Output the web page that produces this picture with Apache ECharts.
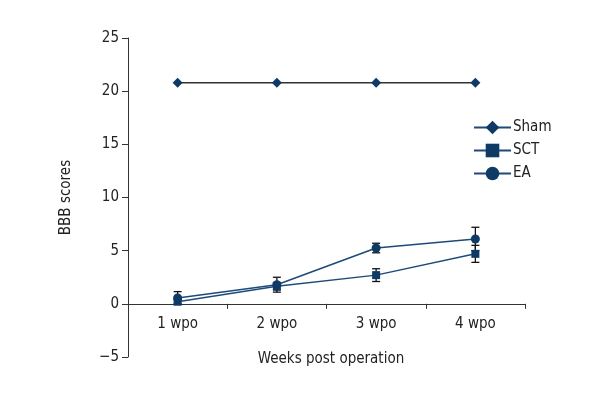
<!DOCTYPE html>
<html>
<head>
<meta charset="utf-8">
<script src="https://cdn.jsdelivr.net/npm/echarts@6/dist/echarts.min.js"></script>
<style>html,body{margin:0;padding:0;background:#fff}#c{width:600px;height:400px}</style>
</head>
<body>
<div id="c"></div>
<script>
var categories = ['1 wpo', '2 wpo', '3 wpo', '4 wpo'];
var shamValues = [20.8, 20.8, 20.8, 20.8];
var sctValues = [0.2, 1.65, 2.7, 4.7];
var sctErrors = [0.2, 0.35, 0.6, 0.8];
var eaValues = [0.55, 1.8, 5.25, 6.1];
var eaErrors = [0.6, 0.7, 0.45, 1.1];
var yTicks = [-5, 0, 5, 10, 15, 20, 25];

var FONT = "'Liberation Sans Narrow', 'DejaVu Sans Condensed', 'Roboto Condensed', sans-serif";
var NAVY = '#0f3a66';
var TXT = '#222';

function errData(vals, errs) {
  return vals.map(function (v, i) { return [i, v - errs[i], v + errs[i]]; });
}
function errRender(params, api) {
  var x = api.value(0);
  var lo = api.coord([x, api.value(1)]);
  var hi = api.coord([x, api.value(2)]);
  var w = 4;
  var st = { stroke: '#111', lineWidth: 1.3 };
  return {
    type: 'group',
    children: [
      { type: 'line', shape: { x1: lo[0], y1: lo[1], x2: hi[0], y2: hi[1] }, style: st },
      { type: 'line', shape: { x1: hi[0] - w, y1: hi[1], x2: hi[0] + w, y2: hi[1] }, style: st },
      { type: 'line', shape: { x1: lo[0] - w, y1: lo[1], x2: lo[0] + w, y2: lo[1] }, style: st }
    ]
  };
}

var chart = echarts.init(document.getElementById('c'), null, { renderer: 'canvas' });
chart.setOption({
  animation: false,
  backgroundColor: '#fff',
  textStyle: { fontFamily: FONT },
  title: {
    text: 'Weeks post operation',
    left: 326, top: 347, textAlign: 'center',
    textStyle: { fontFamily: FONT, fontSize: 15, fontWeight: 'normal', color: TXT }
  },
  grid: { left: 128, right: 75, top: 38, bottom: 43, containLabel: false, outerBoundsMode: 'none' },
  legend: {
    left: 468, top: 115, orient: 'vertical',
    itemWidth: 37, itemHeight: 17, itemGap: 8,
    lineStyle: { color: '#1d4a78' },
    textStyle: { fontFamily: FONT, fontSize: 15, color: TXT, padding: [0, 0, 0, -3] },
    data: ['Sham', 'SCT', 'EA']
  },
  xAxis: {
    type: 'category',
    data: categories,
    boundaryGap: true,
    axisLine: { onZero: true, lineStyle: { color: '#333', width: 1 } },
    axisTick: { show: true, length: 5, inside: false, alignWithLabel: false, lineStyle: { color: '#333' } },
    axisLabel: { fontFamily: FONT, fontSize: 15, color: TXT, margin: -40 },
    splitLine: { show: false }
  },
  yAxis: {
    type: 'value',
    min: yTicks[0], max: yTicks[yTicks.length - 1], interval: 5,
    name: 'BBB scores',
    nameLocation: 'middle',
    nameGap: 54,
    nameTextStyle: { fontFamily: FONT, fontSize: 15, color: TXT },
    axisLine: { show: true, onZero: false, lineStyle: { color: '#333', width: 1 } },
    axisTick: { show: true, length: 6, lineStyle: { color: '#333' } },
    axisLabel: {
      fontFamily: FONT, fontSize: 15, color: TXT, margin: 9,
      formatter: function (v) { return v < 0 ? '\u2212' + Math.abs(v) : String(v); }
    },
    splitLine: { show: false }
  },
  series: [
    {
      name: 'Sham', type: 'line', data: shamValues,
      symbol: 'diamond', symbolSize: 10,
      lineStyle: { color: '#333', width: 1.5 },
      itemStyle: { color: NAVY }
    },
    {
      name: 'SCT', type: 'line', data: sctValues,
      symbol: 'rect', symbolSize: 8,
      lineStyle: { color: '#1d4a78', width: 1.5 },
      itemStyle: { color: NAVY }
    },
    {
      name: 'EA', type: 'line', data: eaValues,
      symbol: 'circle', symbolSize: 9,
      lineStyle: { color: '#1d4a78', width: 1.5 },
      itemStyle: { color: NAVY }
    },
    {
      name: 'SCT err', type: 'custom', data: errData(sctValues, sctErrors),
      renderItem: errRender, encode: { x: 0, y: [1, 2] }, z: 1, silent: true
    },
    {
      name: 'EA err', type: 'custom', data: errData(eaValues, eaErrors),
      renderItem: errRender, encode: { x: 0, y: [1, 2] }, z: 1, silent: true
    }
  ]
});
</script>
</body>
</html>
